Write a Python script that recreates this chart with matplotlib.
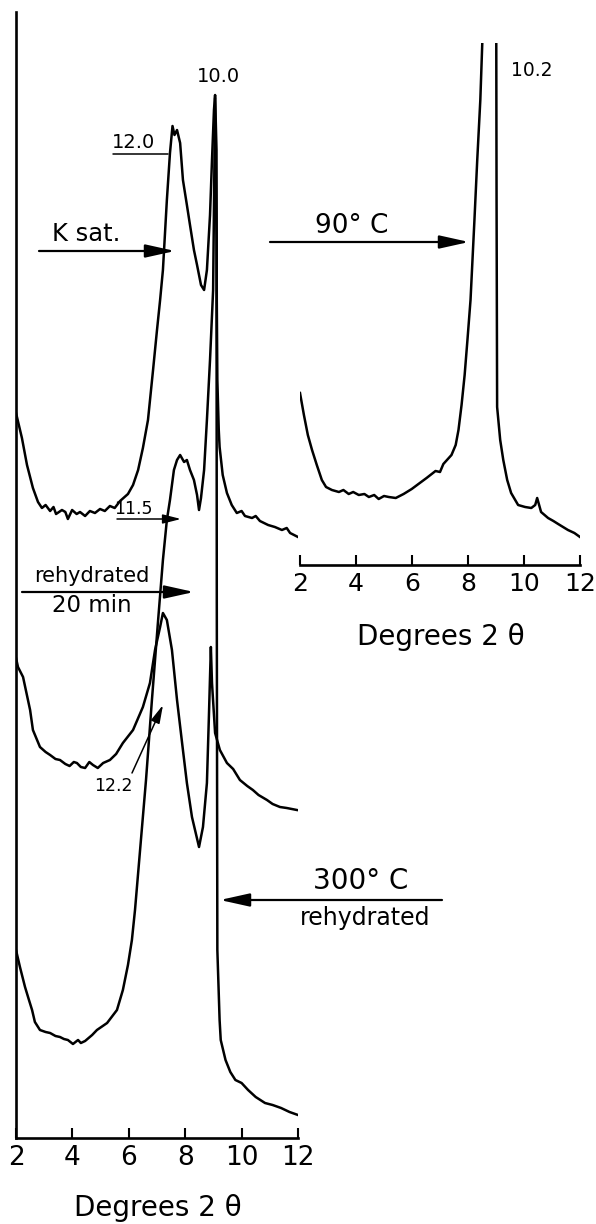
import matplotlib.pyplot as plt

# --- data (2-theta, intensity in plot units) ---
ticks = [2, 4, 6, 8, 10, 12]

# K saturated trace (top of left stack)
ksat_x = [2.00, 2.21, 2.39, 2.60, 2.78, 2.92, 3.05, 3.21, 3.33, 3.42, 3.63, 3.75, 3.84,
          3.99, 4.15, 4.27, 4.45, 4.62, 4.80, 4.98, 5.15, 5.33, 5.50, 5.69, 5.97,
          6.15, 6.33, 6.50, 6.68, 6.86, 7.00, 7.11, 7.21, 7.35, 7.46, 7.55, 7.62,
          7.71, 7.82, 7.92, 8.06, 8.17, 8.31, 8.42, 8.56, 8.67, 8.77, 8.88, 8.95,
          9.02, 9.06, 9.11, 9.12, 9.14, 9.19, 9.22, 9.33, 9.48, 9.65, 9.83, 10.00,
          10.12, 10.37, 10.50, 10.65, 10.94, 11.18, 11.43, 11.60, 11.72, 12.00]
ksat_y = [725, 700, 673, 650, 636, 630, 633, 627, 631, 624, 628, 626, 619,
          628, 624, 626, 622, 627, 625, 629, 627, 632, 630, 637, 644,
          653, 668, 690, 718, 768, 808, 838, 868, 938, 985, 1012, 1003,
          1008, 995, 958, 933, 913, 888, 873, 853, 848, 868, 923, 978,
          1028, 1043, 988, 838, 758, 708, 691, 663, 645, 633, 625, 627,
          622, 620, 622, 617, 613, 611, 608, 610, 605, 601]

# rehydrated 20 min trace (middle)
rehyd_x = [2.00, 2.07, 2.25, 2.50, 2.60, 2.85, 3.05, 3.21, 3.40, 3.56, 3.75, 3.90,
           4.05, 4.16, 4.30, 4.45, 4.60, 4.73, 4.90, 5.09, 5.33, 5.55, 5.79, 6.15,
           6.50, 6.75, 6.93, 7.11, 7.21, 7.35, 7.53, 7.71, 7.89, 8.06, 8.24, 8.49,
           8.63, 8.77, 8.84, 8.91, 8.95, 9.06, 9.23, 9.48, 9.70, 9.94, 10.20, 10.40,
           10.60, 10.90, 11.10, 11.36, 11.60, 11.96]
rehyd_y = [480, 471, 461, 428, 408, 391, 386, 383, 379, 378, 374, 372,
           376, 375, 371, 370, 376, 373, 370, 375, 378, 384, 395, 408,
           431, 455, 488, 511, 525, 518, 488, 438, 395, 355, 321, 291,
           311, 355, 421, 491, 455, 405, 388, 375, 369, 358, 352, 348,
           343, 338, 334, 331, 330, 328]

# 300 C rehydrated trace (bottom)
heat_x = [2.00, 2.14, 2.32, 2.46, 2.57, 2.67, 2.85, 3.05, 3.21, 3.40, 3.56, 3.70,
          3.84, 4.02, 4.20, 4.30, 4.45, 4.70, 4.87, 5.23, 5.58, 5.79, 5.97, 6.11,
          6.22, 6.40, 6.61, 6.82, 7.04, 7.21, 7.35, 7.46, 7.60, 7.71, 7.82, 7.96,
          8.06, 8.17, 8.31, 8.42, 8.49, 8.56, 8.67, 8.77, 8.88, 8.99, 9.06, 9.11,
          9.12, 9.14, 9.22, 9.26, 9.43, 9.60, 9.78, 10.00, 10.23, 10.50, 10.83,
          11.10, 11.40, 11.70, 12.00]
heat_y = [188, 171, 151, 138, 128, 116, 108, 106, 105, 102, 101, 99,
          98, 94, 98, 95, 97, 103, 108, 115, 128, 148, 173, 198,
          228, 288, 358, 438, 518, 578, 618, 638, 668, 678, 683, 676,
          678, 668, 658, 643, 628, 640, 668, 718, 778, 848, 1040, 900,
          538, 188, 118, 98, 78, 66, 58, 55, 48, 41, 35, 33, 30, 26, 23]

# 90 C trace (right panel)
t90_x = [2.00, 2.14, 2.28, 2.43, 2.60, 2.78, 2.93, 3.14, 3.39, 3.55, 3.74, 3.90,
         4.10, 4.30, 4.46, 4.65, 4.81, 5.00, 5.17, 5.42, 5.70, 5.99, 6.23, 6.52,
         6.84, 7.00, 7.12, 7.41, 7.56, 7.66, 7.77, 7.88, 7.98, 8.09, 8.23, 8.33,
         8.44, 8.51, 8.54, 8.97, 9.01, 9.02, 9.04, 9.15, 9.26, 9.40, 9.54, 9.79,
         10.04, 10.26, 10.40, 10.47, 10.54, 10.61, 10.86, 11.05, 11.22, 11.57,
         11.80, 12.00]
t90_y = [172, 150, 130, 115, 100, 85, 78, 75, 73, 75, 71, 73,
         70, 71, 68, 70, 66, 69, 68, 67, 71, 76, 81, 87,
         94, 93, 101, 110, 120, 135, 160, 190, 225, 265, 345, 405,
         465, 522, 600, 600, 522, 365, 158, 125, 105, 85, 72, 60,
         58, 57, 60, 67, 60, 53, 47, 44, 41, 35, 32, 28]

W, H = 596, 1224
fig = plt.figure(figsize=(W / 100, H / 100), dpi=100)


def fx(px):
    return px / W


def fy(py):
    return 1 - py / H


# left stacked panel
ax = fig.add_axes([fx(16), fy(1138), (298 - 16) / W, (1138 - 12) / H])
for xs, ys in [(ksat_x, ksat_y), (rehyd_x, rehyd_y), (heat_x, heat_y)]:
    ax.plot(xs, ys, color='black', lw=1.8, solid_joinstyle='round')
ax.set_xlim(2, 12)
ax.set_ylim(0, 1126)
ax.set_xticks(ticks)
ax.set_yticks([])
for s in ['top', 'right']:
    ax.spines[s].set_visible(False)
ax.spines['left'].set_linewidth(1.9)
ax.spines['bottom'].set_linewidth(1.9)
ax.tick_params(axis='x', direction='in', length=7, width=1.5, labelsize=19, pad=5)

# right panel
ax2 = fig.add_axes([fx(300), fy(565), (580 - 300) / W, (565 - 43) / H])
ax2.plot(t90_x, t90_y, color='black', lw=1.8, solid_joinstyle='round')
ax2.set_xlim(2, 12)
ax2.set_ylim(0, 522)
ax2.set_xticks(ticks)
ax2.set_yticks([])
for s in ['top', 'right', 'left']:
    ax2.spines[s].set_visible(False)
ax2.spines['bottom'].set_linewidth(1.9)
ax2.tick_params(axis='x', direction='in', length=7, width=1.5, labelsize=18, pad=5)

# axis titles
fig.text(fx(158), fy(1208), 'Degrees 2 θ', fontsize=20, ha='center', va='center')
fig.text(fx(441), fy(637), 'Degrees 2 θ', fontsize=20, ha='center', va='center')

# labels and arrows
big = dict(arrowstyle='-|>,head_length=0.9,head_width=0.2', mutation_scale=20,
           lw=1.6, color='black', shrinkA=0, shrinkB=0)
small = dict(arrowstyle='-|>,head_length=0.55,head_width=0.14', mutation_scale=20,
             lw=1.1, color='black', shrinkA=0, shrinkB=0)
plain = dict(arrowstyle='-', lw=1.1, color='black', shrinkA=0, shrinkB=0)


def arrow(p0, p1, props):
    fig.add_artist(plt.matplotlib.patches.FancyArrowPatch(
        (fx(p0[0]), fy(p0[1])), (fx(p1[0]), fy(p1[1])),
        transform=fig.transFigure, **props))


arrow((39, 251), (175, 251), big)
fig.text(fx(86), fy(234), 'K sat.', fontsize=17.5, ha='center', va='center')

arrow((113, 154), (168, 154), plain)
fig.text(fx(134), fy(142), '12.0', fontsize=14, ha='center', va='center')
fig.text(fx(218), fy(76), '10.0', fontsize=14, ha='center', va='center')

arrow((117, 519), (181, 519), small)
fig.text(fx(133), fy(509), '11.5', fontsize=12.5, ha='center', va='center')

arrow((22, 592), (194, 592), big)
fig.text(fx(92), fy(576), 'rehydrated', fontsize=15, ha='center', va='center')
fig.text(fx(92), fy(606), '20 min', fontsize=16.5, ha='center', va='center')

arrow((132, 773), (163, 705), small)
fig.text(fx(113), fy(786), '12.2', fontsize=12.5, ha='center', va='center')

arrow((442, 900), (220, 900), big)
fig.text(fx(361), fy(881), '300° C', fontsize=20, ha='center', va='center')
fig.text(fx(365), fy(918), 'rehydrated', fontsize=17, ha='center', va='center')

arrow((270, 242), (469, 242), big)
fig.text(fx(352), fy(226), '90° C', fontsize=19, ha='center', va='center')
fig.text(fx(532), fy(71), '10.2', fontsize=13.5, ha='center', va='center')

fig.savefig('out.png', dpi=100)
